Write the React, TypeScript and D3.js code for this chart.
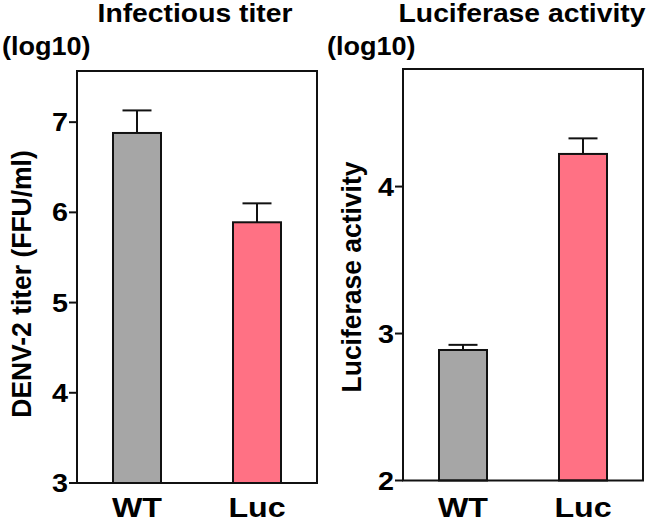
import React from "react";
import * as d3 from "d3";

const categories = ["WT", "Luc"];
const titerValues = [6.88, 5.89];
const titerErrors = [0.25, 0.21];
const lucValues = [2.888, 4.222];
const lucErrors = [0.035, 0.106];
const titerTicks = [3, 4, 5, 6, 7];
const lucTicks = [2, 3, 4];
const barColors = ["#a6a6a6", "#ff7184"];

const FONT = "'Liberation Sans', Arial, Helvetica, sans-serif";

function T(props: { x: number; y: number; size: number; sx?: number; anchor?: string; rot?: number; dy?: string; children: React.ReactNode }) {
  const sx = props.sx ?? 1;
  const rot = props.rot ? ` rotate(${props.rot})` : "";
  return (
    <text transform={`translate(${props.x},${props.y})${rot} scale(${sx},1)`} dy={props.dy}
      textAnchor={props.anchor ?? "start"} fontFamily={FONT} fontWeight="bold" fontSize={props.size} fill="#000">
      {props.children}
    </text>
  );
}

type PanelProps = {
  x0: number; x1: number; yTop: number; yBot: number;
  domain: [number, number];
  values: number[]; errors: number[]; ticks: number[];
  title: string; titleX: number;
  yLabel: string; yLabelX: number; yLabelY: number;
  logX: number;
};

function Panel(p: PanelProps) {
  const y = d3.scaleLinear().domain(p.domain).range([p.yBot, p.yTop]);
  const x = d3.scaleBand<string>().domain(categories).range([p.x0, p.x1]).paddingInner(0.6).paddingOuter(0.3);
  const bw = x.bandwidth();
  const capW = 29;
  return (
    <g>
      <T x={p.titleX} y={22} size={25.5} sx={1.11} anchor="middle">{p.title}</T>
      <T x={p.logX} y={55} size={26} sx={1.04}>(log10)</T>
      <T x={p.yLabelX} y={p.yLabelY} size={27} sx={0.98} rot={-90} anchor="middle">{p.yLabel}</T>
      {categories.map((c, i) => {
        const bx = x(c)!;
        const cx = bx + bw / 2;
        const top = y(p.values[i]);
        const errTop = y(p.values[i] + p.errors[i]);
        return (
          <g key={c}>
            <line x1={cx} x2={cx} y1={top} y2={errTop} stroke="#111" strokeWidth={2} />
            <line x1={cx - capW / 2} x2={cx + capW / 2} y1={errTop} y2={errTop} stroke="#111" strokeWidth={2} />
            <rect x={bx} y={top} width={bw} height={p.yBot - top} fill={barColors[i]} stroke="#111" strokeWidth={2} />
            <T x={cx} y={517} size={28} sx={1.15} anchor="middle">{c}</T>
          </g>
        );
      })}
      <rect x={p.x0} y={p.yTop} width={p.x1 - p.x0} height={p.yBot - p.yTop} fill="none" stroke="#111" strokeWidth={2} />
      {p.ticks.map((t) => (
        <g key={t}>
          <line x1={p.x0 - 8} x2={p.x0} y1={y(t)} y2={y(t)} stroke="#111" strokeWidth={2} />
          <T x={p.x0 - 9} y={y(t)} dy="0.36em" size={25} sx={1.15} anchor="end">{t}</T>
        </g>
      ))}
    </g>
  );
}

export default function App() {
  return (
    <svg width={650} height={523} style={{ position: "absolute", left: 0, top: 0, background: "#fff" }}>
      <rect width={650} height={523} fill="#fff" />
      <Panel x0={77} x1={317} yTop={71} yBot={483} domain={[3, 7.567]}
        values={titerValues} errors={titerErrors} ticks={titerTicks}
        title="Infectious titer" titleX={195}
        yLabel="DENV-2 titer (FFU/ml)" yLabelX={31} yLabelY={284} logX={2} />
      <Panel x0={403} x1={643} yTop={69} yBot={480.5} domain={[2, 4.8]}
        values={lucValues} errors={lucErrors} ticks={lucTicks}
        title="Luciferase activity" titleX={522}
        yLabel="Luciferase activity" yLabelX={361} yLabelY={277} logX={327} />
    </svg>
  );
}
